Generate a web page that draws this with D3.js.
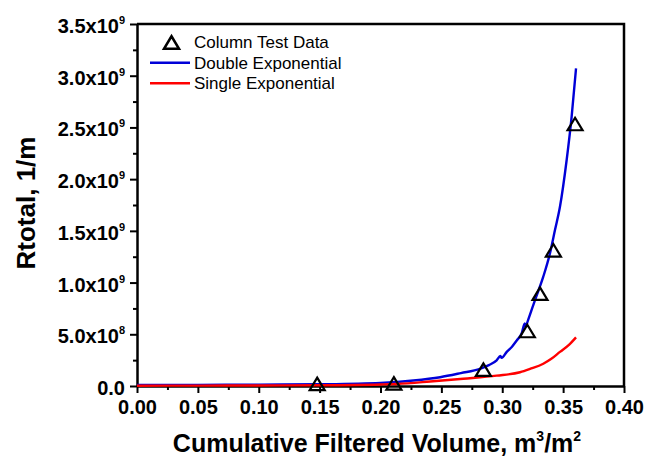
<!DOCTYPE html>
<html>
<head>
<meta charset="utf-8">
<script src="https://cdn.jsdelivr.net/npm/d3@7"></script>
<style>
  body { margin: 0; background: #fff; }
  svg { display: block; font-family: "Liberation Sans", Arial, sans-serif; }
</style>
</head>
<body>
<svg id="chart" width="657" height="457"></svg>
<script>
// Measured column test data
const testVolume = [0.148, 0.211, 0.2845, 0.3206, 0.331, 0.342, 0.3598];
const testR = [2.0e7, 2.5e7, 1.58e8, 5.32e8, 8.93e8, 1.312e9, 2.533e9];

// Double exponential fit
const doubleVolume = [0.000, 0.050, 0.100, 0.150, 0.200, 0.227, 0.249, 0.266, 0.2817, 0.289, 0.2954, 0.2985, 0.2995, 0.3037, 0.3080, 0.3119, 0.3160, 0.3185, 0.3192, 0.3210, 0.3269, 0.3337, 0.3392, 0.3433, 0.3474, 0.3529, 0.3570, 0.3606];
const doubleR = [1.0e7, 1.1e7, 1.3e7, 1.7e7, 3.0e7, 5.3e7, 8.5e7, 1.25e8, 1.66e8, 2.02e8, 2.48e8, 2.90e8, 2.72e8, 3.30e8, 3.80e8, 4.40e8, 5.10e8, 6.05e8, 5.75e8, 6.30e8, 8.31e8, 1.057e9, 1.283e9, 1.508e9, 1.733e9, 2.185e9, 2.604e9, 3.07e9];

// Single exponential fit
const singleVolume = [0.000, 0.050, 0.100, 0.150, 0.200, 0.2133, 0.2407, 0.268, 0.2954, 0.3146, 0.3228, 0.3337, 0.340, 0.3474, 0.355, 0.3606];
const singleR = [3e6, 4e6, 5e6, 7e6, 1.5e7, 2.0e7, 4.3e7, 7.0e7, 1.00e8, 1.33e8, 1.65e8, 2.15e8, 2.60e8, 3.30e8, 4.00e8, 4.70e8];

const xTicks = [0.00, 0.05, 0.10, 0.15, 0.20, 0.25, 0.30, 0.35, 0.40];
const yTicks = [0, 0.5e9, 1.0e9, 1.5e9, 2.0e9, 2.5e9, 3.0e9, 3.5e9];

const legendLabels = ["Column Test Data", "Double Exponential", "Single Exponential"];

const blue = "#0000d8";
const red = "#ff0000";

const svg = d3.select("#chart");
const plot = { left: 137, right: 624, top: 24, bottom: 386 };

const x = d3.scaleLinear().domain([0, 0.40]).range([plot.left, plot.right]);
const y = d3.scaleLinear().domain([0, 3.5e9]).range([plot.bottom, plot.top]);

// Minor ticks halfway between the labelled ones
const xMinor = d3.range(0.025, 0.40, 0.05);
const yMinor = d3.range(0.25e9, 3.5e9, 0.5e9);

const xAxis = svg.append("g").attr("transform", `translate(0,${plot.bottom})`);
xAxis.call(d3.axisBottom(x).tickValues(xTicks).tickSize(7).tickSizeOuter(0).tickFormat(d3.format(".2f")));
xAxis.append("g").call(d3.axisBottom(x).tickValues(xMinor).tickSize(4).tickFormat(""))
  .select(".domain").remove();

const yAxis = svg.append("g").attr("transform", `translate(${plot.left},0)`);
yAxis.call(d3.axisLeft(y).tickValues(yTicks).tickSize(7).tickSizeOuter(0).tickFormat(""));
yAxis.append("g").call(d3.axisLeft(y).tickValues(yMinor).tickSize(4).tickFormat(""))
  .select(".domain").remove();

svg.selectAll(".domain").attr("stroke", "#000").attr("stroke-width", 2.5);
svg.selectAll(".tick line").attr("stroke", "#000").attr("stroke-width", 2);

xAxis.selectAll(".tick text")
  .attr("font-family", "Liberation Sans, Arial, sans-serif")
  .attr("font-size", 20).attr("font-weight", "bold").attr("fill", "#000")
  .attr("dy", null).attr("y", 28);

// Y tick labels in scientific notation with superscript exponents
yTicks.forEach(v => {
  const t = yAxis.append("text")
    .attr("x", -12).attr("y", y(v) + 9)
    .attr("text-anchor", "end")
    .attr("font-size", 20).attr("font-weight", "bold").attr("fill", "#000");
  if (v === 0) {
    t.text("0.0");
  } else {
    const e = Math.floor(Math.log10(v));
    const m = (v / Math.pow(10, e)).toFixed(1);
    t.append("tspan").text(m + "x10");
    t.append("tspan").attr("dy", -9).attr("font-size", 11).text(e);
  }
});

// Frame top & right
svg.append("path")
  .attr("d", `M${plot.left},${plot.top}H${plot.right}V${plot.bottom}`)
  .attr("fill", "none").attr("stroke", "#000").attr("stroke-width", 2.5);

const line = d3.line().x(d => x(d[0])).y(d => y(d[1])).curve(d3.curveMonotoneX);

svg.append("path")
  .datum(doubleVolume.map((v, i) => [v, doubleR[i]]))
  .attr("d", line).attr("fill", "none").attr("stroke", blue).attr("stroke-width", 2.4)
  .attr("stroke-linejoin", "round");

svg.append("path")
  .datum(singleVolume.map((v, i) => [v, singleR[i]]))
  .attr("d", line).attr("fill", "none").attr("stroke", red).attr("stroke-width", 2.4)
  .attr("stroke-linejoin", "round");

// Open triangle centred on its bounding box
function triangle(w, h) {
  return `M0,${-h / 2}L${w / 2},${h / 2}L${-w / 2},${h / 2}Z`;
}
svg.append("g").selectAll("path")
  .data(testVolume.map((v, i) => [v, testR[i]]))
  .join("path")
  .attr("transform", d => `translate(${x(d[0])},${y(d[1])})`)
  .attr("d", triangle(15, 12.5))
  .attr("fill", "none").attr("stroke", "#000").attr("stroke-width", 2.2)
  .attr("stroke-linejoin", "miter");

// Legend
const legend = svg.append("g").attr("font-size", 17).attr("fill", "#000");
legend.append("path").attr("transform", "translate(171.5,42.5)").attr("d", triangle(15, 12.5))
  .attr("fill", "none").attr("stroke", "#000").attr("stroke-width", 2.5);
legend.append("line").attr("x1", 150).attr("x2", 190).attr("y1", 62.7).attr("y2", 62.7)
  .attr("stroke", blue).attr("stroke-width", 2.4);
legend.append("line").attr("x1", 150).attr("x2", 190).attr("y1", 83.3).attr("y2", 83.3)
  .attr("stroke", red).attr("stroke-width", 2.4);
legendLabels.forEach((s, i) => {
  legend.append("text").attr("x", 194).attr("y", 48 + i * 20.7).text(s);
});

// Axis titles
const xt = svg.append("text")
  .attr("x", 377).attr("y", 452)
  .attr("text-anchor", "middle").attr("font-size", 25).attr("font-weight", "bold");
xt.append("tspan").text("Cumulative Filtered Volume, m");
xt.append("tspan").attr("dy", -11).attr("font-size", 14).text("3");
xt.append("tspan").attr("dy", 11).text("/m");
xt.append("tspan").attr("dy", -11).attr("font-size", 14).text("2");

svg.append("text")
  .attr("transform", "translate(35,203) rotate(-90)")
  .attr("text-anchor", "middle").attr("font-size", 26).attr("font-weight", "bold")
  .text("Rtotal, 1/m");
</script>
</body>
</html>
